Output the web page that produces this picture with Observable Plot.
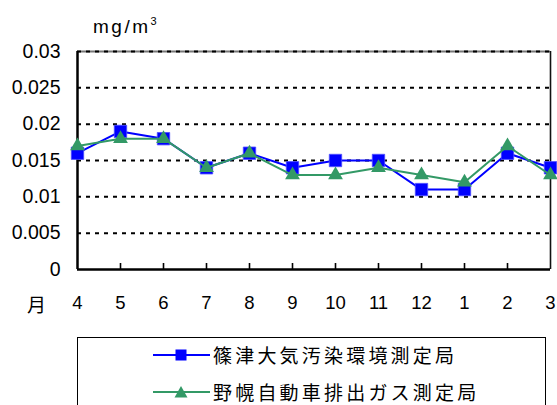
<!DOCTYPE html>
<html>
<head>
<meta charset="utf-8">
<script src="https://cdn.jsdelivr.net/npm/d3@7"></script>
<script src="https://cdn.jsdelivr.net/npm/@observablehq/plot@0.6"></script>
<style>
  html, body { margin: 0; padding: 0; background: #fff; overflow: hidden; }
  #wrap { position: relative; width: 557px; height: 405px; font-family: "Liberation Sans", Arial, sans-serif; }
  #unit { position: absolute; left: 93px; top: 16px; font-size: 19px; letter-spacing: 2.5px; color: #000; }
  #unit sup { font-size: 11px; letter-spacing: 0; position: relative; top: -1px; }
  #month { position: absolute; left: 27px; top: 290px; font-size: 19px; font-family: "Noto Sans CJK JP", sans-serif; color: #000; }
  #chart { position: absolute; left: 0; top: 0; }
  #legend { position: absolute; left: 77px; top: 337px; width: 469px; height: 90px; border: 1px solid #000; box-sizing: border-box; background: #fff; }
  .row { position: absolute; left: 75px; height: 24px; display: flex; align-items: center; }
  .row span { font-family: "Noto Sans CJK JP", sans-serif; font-size: 19px; letter-spacing: 3.2px; margin-left: 3px; line-height: 24px; color: #000; }
</style>
</head>
<body>
<div id="wrap">
  <div id="chart"></div>
  <div id="unit">mg/m<sup>3</sup></div>
  <div id="month">月</div>
  <div id="legend"></div>
</div>
<script>
// Months of the fiscal year (April to March)
const months = ["4", "5", "6", "7", "8", "9", "10", "11", "12", "1", "2", "3"];

// Monthly mean concentrations (mg/m3)
const shinotsu = [0.016, 0.019, 0.018, 0.014, 0.016, 0.014, 0.015, 0.015, 0.011, 0.011, 0.016, 0.014];
const nopporo  = [0.017, 0.018, 0.018, 0.014, 0.016, 0.013, 0.013, 0.014, 0.013, 0.012, 0.017, 0.013];

const seriesNames = ["篠津大気汚染環境測定局", "野幌自動車排出ガス測定局"];
const seriesColors = ["#0000ff", "#339966"];

const yTicks = [0, 0.005, 0.01, 0.015, 0.02, 0.025, 0.03];
const yTickLabels = ["0", "0.005", "0.01", "0.015", "0.02", "0.025", "0.03"];

const rowsA = months.map((m, i) => ({month: m, value: shinotsu[i]}));
const rowsB = months.map((m, i) => ({month: m, value: nopporo[i]}));

const chart = Plot.plot({
  width: 557,
  height: 330,
  marginLeft: 77,
  marginRight: 7,
  marginTop: 51,
  marginBottom: 61,
  style: {fontFamily: "'Liberation Sans', Arial, sans-serif", fontSize: "18px", color: "#000", background: "transparent"},
  x: {type: "point", domain: months, padding: 0},
  y: {domain: [0, 0.03]},
  marks: [
    // top and right border of the plot area
    Plot.ruleY([0.03], {stroke: "#777", strokeWidth: 2}),
    Plot.ruleX(["3"], {stroke: "#111", strokeWidth: 1.6}),
    // dashed horizontal gridlines
    Plot.ruleY(yTicks.filter(d => d > 0), {stroke: "#000", strokeWidth: 2, strokeDasharray: "4,5"}),
    // inward tick marks on the category axis
    Plot.tickX(months.slice(1, -1), {x: d => d, insetTop: 212, stroke: "#000", strokeWidth: 1.6}),
    // axis lines
    Plot.ruleX(["4"], {stroke: "#000", strokeWidth: 2.5}),
    Plot.ruleY([0], {stroke: "#000", strokeWidth: 2.5}),
    Plot.axisY({ticks: yTicks, tickFormat: d => yTickLabels[yTicks.indexOf(d)], tickSize: 0, tickPadding: 17, fontSize: 19.5, label: null}),
    Plot.axisX({tickSize: 0, tickPadding: 26, fontSize: 18.5, label: null}),
    // series 1: squares
    Plot.line(rowsA, {x: "month", y: "value", stroke: seriesColors[0], strokeWidth: 2}),
    Plot.dot(rowsA, {x: "month", y: "value", symbol: "square", r: 7, fill: seriesColors[0], stroke: "#4d4dff", strokeWidth: 0.8}),
    // series 2: triangles
    Plot.line(rowsB, {x: "month", y: "value", stroke: seriesColors[1], strokeWidth: 2}),
    Plot.dot(rowsB, {x: "month", y: "value", symbol: "triangle", r: 5.5, fill: seriesColors[1]})
  ]
});
document.getElementById("chart").appendChild(chart);

// Legend: line sample with marker, then station name
const legend = d3.select("#legend");
const markers = [
  g => g.append("rect").attr("x", 22.5).attr("y", 6.5).attr("width", 11).attr("height", 11).attr("fill", seriesColors[0]),
  g => g.append("path").attr("d", "M28,6 L34.5,17.5 L21.5,17.5 Z").attr("fill", seriesColors[1])
];
seriesNames.forEach((name, i) => {
  const row = legend.append("div").attr("class", "row").style("top", (5 + i * 37) + "px");
  const svg = row.append("svg").attr("width", 57).attr("height", 24);
  svg.append("line").attr("x1", 0).attr("x2", 57).attr("y1", 12).attr("y2", 12)
    .attr("stroke", seriesColors[i]).attr("stroke-width", 2);
  markers[i](svg);
  row.append("span").text(name);
});
</script>
</body>
</html>
